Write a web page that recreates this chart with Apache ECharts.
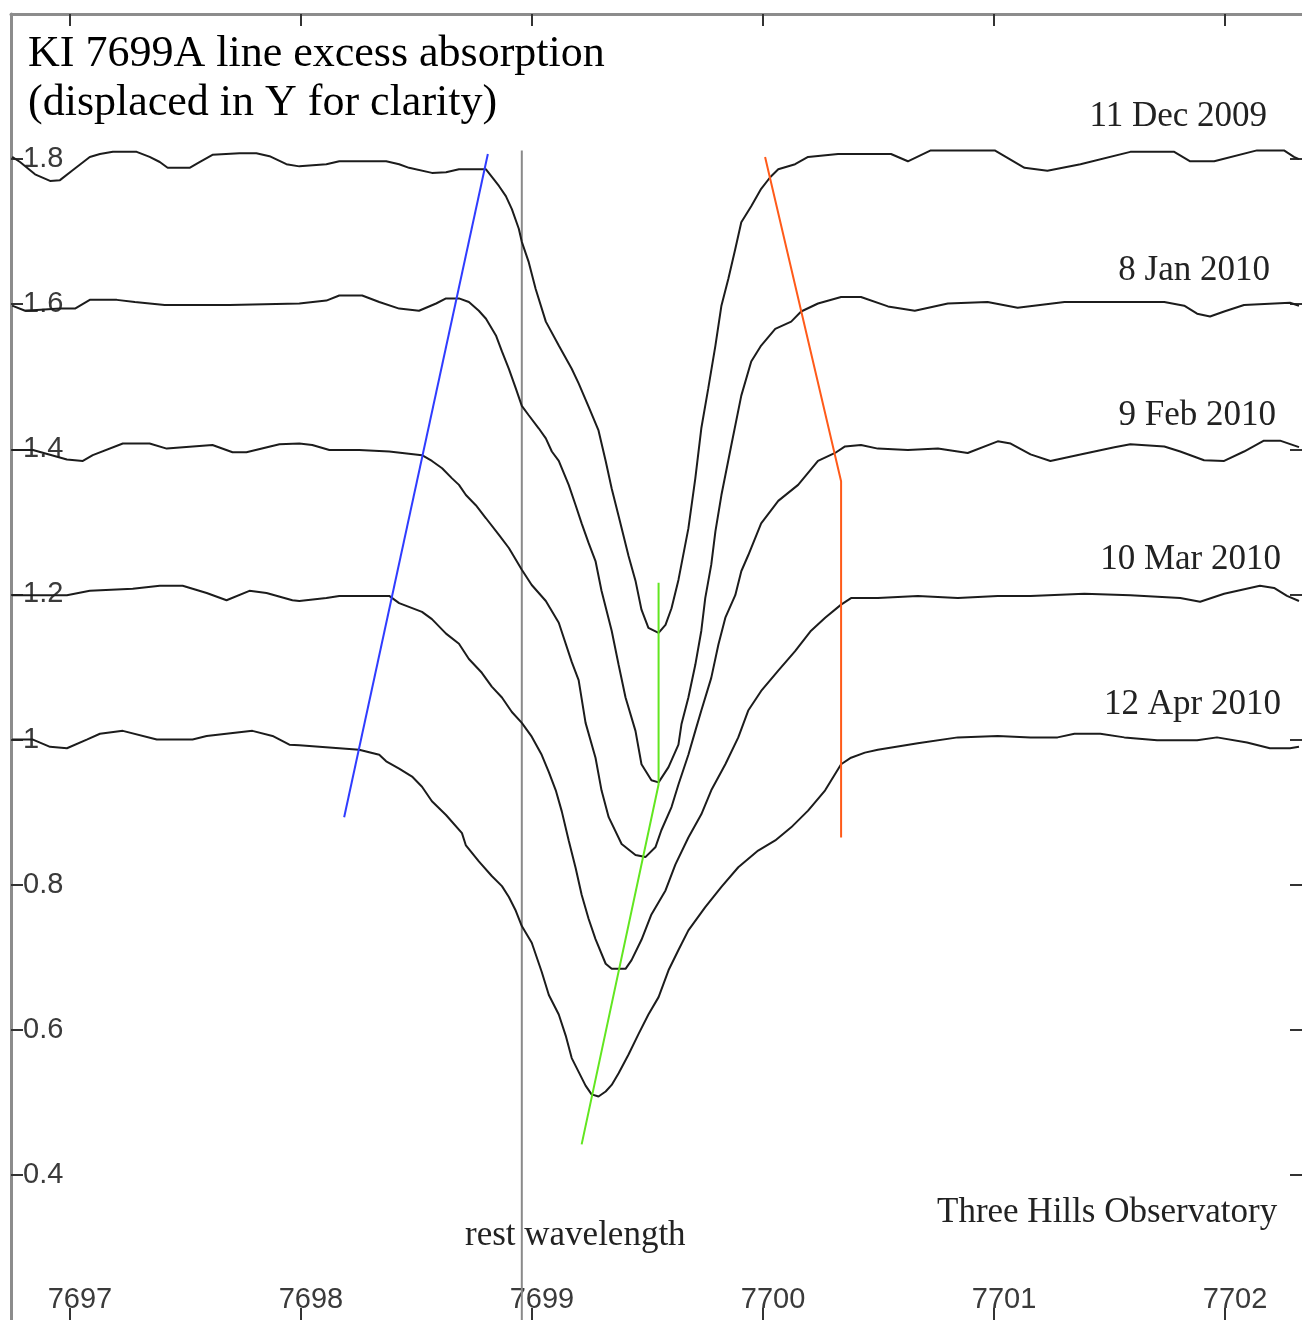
<!DOCTYPE html>
<html>
<head>
<meta charset="utf-8">
<script src="https://cdn.jsdelivr.net/npm/echarts@6/dist/echarts.min.js"></script>
<style>
html,body{margin:0;padding:0;background:#fff;}
#chart{width:1302px;height:1320px;}
</style>
</head>
<body>
<div id="chart"></div>
<script>
// ---- data (wavelength in Angstrom, relative intensity displaced in Y) ----
const xTicks = [7697, 7698, 7699, 7700, 7701, 7702];
const yTicks = [0.4, 0.6, 0.8, 1.0, 1.2, 1.4, 1.6, 1.8];

const dec2009 = [[7696.75,1.803],[7696.784,1.796],[7696.849,1.779],[7696.914,1.770],[7696.957,1.771],[7697.009,1.784],[7697.086,1.803],[7697.130,1.807],[7697.186,1.810],[7697.289,1.810],[7697.345,1.803],[7697.389,1.796],[7697.423,1.788],[7697.518,1.788],[7697.561,1.796],[7697.617,1.806],[7697.734,1.808],[7697.807,1.808],[7697.864,1.804],[7697.937,1.793],[7697.993,1.790],[7698.110,1.793],[7698.166,1.797],[7698.369,1.797],[7698.425,1.793],[7698.468,1.788],[7698.567,1.781],[7698.628,1.782],[7698.684,1.786],[7698.801,1.786],[7698.857,1.763],[7698.887,1.749],[7698.913,1.731],[7698.943,1.704],[7698.956,1.686],[7698.986,1.658],[7699.016,1.621],[7699.060,1.576],[7699.116,1.543],[7699.172,1.511],[7699.202,1.491],[7699.245,1.459],[7699.288,1.426],[7699.319,1.384],[7699.345,1.346],[7699.375,1.308],[7699.418,1.253],[7699.448,1.219],[7699.474,1.179],[7699.504,1.154],[7699.548,1.147],[7699.578,1.158],[7699.604,1.181],[7699.634,1.220],[7699.677,1.291],[7699.707,1.360],[7699.733,1.429],[7699.763,1.484],[7699.794,1.543],[7699.820,1.598],[7699.850,1.635],[7699.880,1.676],[7699.906,1.713],[7699.949,1.735],[7699.992,1.759],[7700.031,1.775],[7700.066,1.786],[7700.139,1.793],[7700.195,1.803],[7700.325,1.807],[7700.454,1.807],[7700.554,1.807],[7700.627,1.797],[7700.726,1.812],[7701.003,1.812],[7701.132,1.788],[7701.231,1.784],[7701.374,1.793],[7701.590,1.810],[7701.780,1.810],[7701.849,1.797],[7701.953,1.797],[7702.138,1.812],[7702.255,1.812],[7702.298,1.803],[7702.320,1.800]];

const jan2010 = [[7696.75,1.598],[7696.806,1.591],[7696.957,1.594],[7697.022,1.594],[7697.086,1.606],[7697.203,1.606],[7697.281,1.603],[7697.410,1.599],[7697.691,1.599],[7697.993,1.601],[7698.110,1.605],[7698.166,1.612],[7698.265,1.612],[7698.339,1.603],[7698.425,1.594],[7698.511,1.591],[7698.585,1.601],[7698.628,1.608],[7698.684,1.608],[7698.727,1.603],[7698.770,1.591],[7698.801,1.580],[7698.844,1.557],[7698.870,1.535],[7698.900,1.511],[7698.930,1.484],[7698.956,1.460],[7698.986,1.447],[7699.029,1.429],[7699.060,1.415],[7699.086,1.397],[7699.116,1.384],[7699.159,1.351],[7699.189,1.323],[7699.215,1.298],[7699.245,1.271],[7699.275,1.246],[7699.301,1.205],[7699.345,1.150],[7699.375,1.103],[7699.405,1.058],[7699.448,1.012],[7699.474,0.966],[7699.517,0.944],[7699.548,0.941],[7699.591,0.962],[7699.634,0.993],[7699.647,1.021],[7699.677,1.058],[7699.707,1.103],[7699.733,1.150],[7699.750,1.195],[7699.776,1.241],[7699.794,1.287],[7699.820,1.337],[7699.863,1.406],[7699.906,1.474],[7699.949,1.521],[7699.992,1.543],[7700.053,1.566],[7700.122,1.576],[7700.165,1.590],[7700.238,1.601],[7700.338,1.610],[7700.424,1.610],[7700.541,1.597],[7700.657,1.591],[7700.800,1.601],[7700.972,1.603],[7701.102,1.595],[7701.305,1.603],[7701.590,1.603],[7701.737,1.603],[7701.823,1.598],[7701.879,1.587],[7701.935,1.583],[7701.996,1.590],[7702.082,1.599],[7702.281,1.602],[7702.320,1.598]];

const feb2010 = [[7696.75,1.399],[7696.840,1.399],[7696.987,1.386],[7697.056,1.384],[7697.099,1.392],[7697.229,1.408],[7697.345,1.408],[7697.419,1.401],[7697.617,1.406],[7697.704,1.396],[7697.764,1.396],[7697.907,1.407],[7697.993,1.408],[7698.049,1.406],[7698.123,1.399],[7698.252,1.399],[7698.382,1.397],[7698.524,1.392],[7698.567,1.384],[7698.611,1.374],[7698.654,1.360],[7698.684,1.351],[7698.714,1.337],[7698.757,1.323],[7698.801,1.305],[7698.857,1.282],[7698.900,1.264],[7698.956,1.234],[7698.999,1.213],[7699.060,1.191],[7699.116,1.161],[7699.172,1.107],[7699.202,1.082],[7699.232,1.023],[7699.275,0.975],[7699.301,0.930],[7699.332,0.893],[7699.388,0.856],[7699.448,0.841],[7699.491,0.838],[7699.535,0.852],[7699.560,0.875],[7699.604,0.907],[7699.634,0.938],[7699.677,0.979],[7699.707,1.012],[7699.733,1.040],[7699.776,1.085],[7699.807,1.131],[7699.837,1.168],[7699.880,1.199],[7699.906,1.232],[7699.936,1.254],[7699.992,1.298],[7700.066,1.329],[7700.152,1.351],[7700.238,1.384],[7700.312,1.395],[7700.355,1.404],[7700.424,1.406],[7700.497,1.401],[7700.627,1.399],[7700.757,1.401],[7700.886,1.395],[7701.016,1.411],[7701.072,1.408],[7701.158,1.393],[7701.244,1.384],[7701.374,1.393],[7701.521,1.403],[7701.590,1.407],[7701.737,1.404],[7701.806,1.397],[7701.909,1.385],[7701.996,1.384],[7702.082,1.397],[7702.168,1.412],[7702.238,1.412],[7702.320,1.403]];

const mar2010 = [[7696.75,1.199],[7696.840,1.199],[7696.987,1.199],[7697.086,1.205],[7697.272,1.208],[7697.389,1.212],[7697.488,1.212],[7697.592,1.202],[7697.678,1.192],[7697.777,1.205],[7697.851,1.202],[7697.963,1.192],[7697.993,1.191],[7698.110,1.195],[7698.166,1.198],[7698.382,1.198],[7698.425,1.188],[7698.524,1.176],[7698.567,1.166],[7698.628,1.146],[7698.684,1.132],[7698.727,1.111],[7698.783,1.092],[7698.826,1.073],[7698.870,1.058],[7698.913,1.038],[7698.956,1.023],[7698.999,1.004],[7699.042,0.979],[7699.073,0.955],[7699.103,0.930],[7699.129,0.901],[7699.159,0.861],[7699.189,0.823],[7699.215,0.786],[7699.245,0.753],[7699.275,0.725],[7699.319,0.691],[7699.345,0.684],[7699.405,0.684],[7699.431,0.696],[7699.474,0.724],[7699.517,0.759],[7699.578,0.792],[7699.621,0.828],[7699.677,0.865],[7699.733,0.897],[7699.776,0.930],[7699.837,0.966],[7699.893,1.003],[7699.936,1.040],[7699.992,1.067],[7700.066,1.095],[7700.139,1.122],[7700.208,1.150],[7700.269,1.168],[7700.338,1.186],[7700.381,1.195],[7700.497,1.195],[7700.670,1.198],[7700.843,1.195],[7701.016,1.198],[7701.158,1.198],[7701.391,1.201],[7701.590,1.199],[7701.806,1.195],[7701.892,1.190],[7701.996,1.201],[7702.151,1.212],[7702.212,1.209],[7702.268,1.198],[7702.320,1.191]];

const apr2010 = [[7696.75,1.000],[7696.840,1.000],[7696.914,0.990],[7696.987,0.988],[7697.073,1.000],[7697.130,1.008],[7697.229,1.012],[7697.376,1.000],[7697.531,1.000],[7697.592,1.005],[7697.790,1.012],[7697.877,1.005],[7697.950,0.993],[7697.993,0.992],[7698.252,0.986],[7698.339,0.979],[7698.369,0.970],[7698.425,0.960],[7698.481,0.949],[7698.524,0.935],[7698.567,0.915],[7698.628,0.896],[7698.697,0.871],[7698.714,0.854],[7698.770,0.832],[7698.826,0.812],[7698.870,0.798],[7698.900,0.783],[7698.930,0.764],[7698.956,0.743],[7698.999,0.720],[7699.042,0.680],[7699.073,0.648],[7699.116,0.621],[7699.146,0.592],[7699.172,0.561],[7699.202,0.542],[7699.232,0.523],[7699.258,0.511],[7699.288,0.508],[7699.319,0.515],[7699.345,0.524],[7699.375,0.540],[7699.418,0.566],[7699.461,0.594],[7699.504,0.621],[7699.548,0.645],[7699.591,0.682],[7699.634,0.710],[7699.677,0.737],[7699.750,0.769],[7699.820,0.797],[7699.893,0.824],[7699.979,0.847],[7700.053,0.861],[7700.122,0.879],[7700.195,0.902],[7700.269,0.930],[7700.338,0.966],[7700.381,0.975],[7700.441,0.982],[7700.497,0.986],[7700.670,0.995],[7700.843,1.003],[7701.016,1.005],[7701.158,1.003],[7701.275,1.003],[7701.348,1.008],[7701.460,1.008],[7701.564,1.003],[7701.706,0.999],[7701.879,0.999],[7701.965,1.003],[7702.095,0.996],[7702.194,0.988],[7702.281,0.988],[7702.320,0.990]];

const restWavelength = [[7698.956, 1.812], [7698.956, 0.2]];
const blueGuide = [[7698.809, 1.807], [7698.187, 0.893]];
const orangeGuide = [[7700.009, 1.803], [7700.338, 1.356], [7700.338, 0.865]];
const greenGuide = [[7699.548, 1.216], [7699.548, 0.938], [7699.215, 0.442]];

const dateLabels = ['11 Dec 2009', '8 Jan 2010', '9 Feb 2010', '10 Mar 2010', '12 Apr 2010'];
const titleLines = ['KI 7699A line excess absorption', '(displaced in Y for clarity)'];
const restLabel = 'rest wavelength';
const creditLabel = 'Three Hills Observatory';

// ---- chart ----
const chart = echarts.init(document.getElementById('chart'), null, {renderer: 'canvas'});
const spectra = [dec2009, jan2010, feb2010, mar2010, apr2010];
const serif = '"Liberation Serif", "Times New Roman", serif';
const tickFont = '"Liberation Sans", Arial, sans-serif';

const axisLineStyle = {color: '#8c8c8c', width: 3};
const tickStyle = {color: '#333', width: 2};

function lineSeries(data, color, width, z) {
  return {
    type: 'line', data: data, showSymbol: false, symbol: 'none',
    lineStyle: {color: color, width: width}, z: z, animation: false,
    silent: true, clip: true
  };
}

const series = spectra.map(d => lineSeries(d, '#1c1c1c', 2, 3));
series.push(lineSeries(restWavelength, '#8a8a8a', 2, 2));
series.push(lineSeries(blueGuide, '#2f3cff', 2, 4));
series.push(lineSeries(orangeGuide, '#ff5a19', 2, 4));
series.push(lineSeries(greenGuide, '#62e620', 2, 4));

const labelY = [117, 271, 416, 560, 705];
const labelRight = [1267, 1270, 1276, 1281, 1281];
const graphics = [];
titleLines.forEach((t, i) => graphics.push({
  type: 'text', x: 28, y: [54, 103][i], z: 10,
  style: {text: t, font: '44px ' + serif, fill: '#000', align: 'left', verticalAlign: 'middle'}
}));
dateLabels.forEach((t, i) => graphics.push({
  type: 'text', x: labelRight[i], y: labelY[i], z: 10,
  style: {text: t, font: '35px ' + serif, fill: '#222', align: 'right', verticalAlign: 'middle'}
}));
graphics.push({type: 'text', x: 465, y: 1236, z: 10,
  style: {text: restLabel, font: '35px ' + serif, fill: '#222', align: 'left', verticalAlign: 'middle'}});
graphics.push({type: 'text', x: 937, y: 1213, z: 10,
  style: {text: creditLabel, font: '35px ' + serif, fill: '#222', align: 'left', verticalAlign: 'middle'}});

const xBase = {
  type: 'value', min: 7696.745, max: 7702.333,
  splitLine: {show: false}
};
const yBase = {
  type: 'value', min: 0.2, max: 2.0,
  splitLine: {show: false}
};

chart.setOption({
  animation: false,
  backgroundColor: '#ffffff',
  grid: {left: 11, top: 14, width: 1294, height: 1310, containLabel: false},
  xAxis: [
    Object.assign({}, xBase, {
      position: 'bottom',
      axisLine: {show: false, onZero: false},
      axisTick: {show: true, inside: true, length: 12, lineStyle: tickStyle, customValues: xTicks},
      axisLabel: {show: true, inside: true, margin: 6, customValues: xTicks,
        fontFamily: tickFont, fontSize: 29, color: '#3a3a3a', padding: [0, 0, 0, 20],
        formatter: v => String(Math.round(v))}
    }),
    Object.assign({}, xBase, {
      position: 'top',
      axisLine: {show: true, onZero: false, lineStyle: axisLineStyle},
      axisTick: {show: true, inside: true, length: 12, lineStyle: tickStyle, customValues: xTicks},
      axisLabel: {show: false}
    })
  ],
  yAxis: [
    Object.assign({}, yBase, {
      position: 'left',
      axisLine: {show: true, onZero: false, lineStyle: axisLineStyle},
      axisTick: {show: true, inside: true, length: 12, lineStyle: tickStyle, customValues: yTicks},
      axisLabel: {show: true, inside: true, margin: 12, customValues: yTicks,
        fontFamily: tickFont, fontSize: 29, color: '#3a3a3a',
        formatter: v => String(+(+v).toFixed(1))}
    }),
    Object.assign({}, yBase, {
      position: 'right',
      axisLine: {show: false, onZero: false},
      axisTick: {show: true, inside: true, length: 12, lineStyle: tickStyle, customValues: yTicks},
      axisLabel: {show: false}
    })
  ],
  series: series,
  graphic: graphics
});
</script>
</body>
</html>
